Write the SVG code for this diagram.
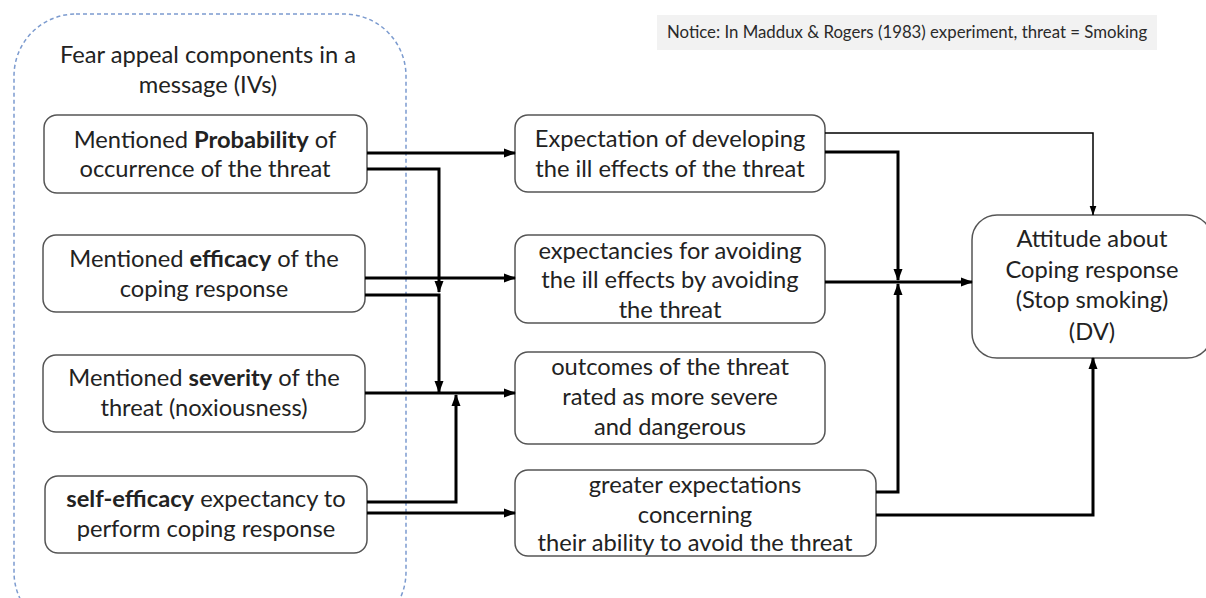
<svg xmlns="http://www.w3.org/2000/svg" width="1206" height="598" viewBox="0 0 1206 598">
<defs>
<marker id="ah" markerUnits="userSpaceOnUse" markerWidth="12" markerHeight="12" viewBox="0 0 12 12" refX="11" refY="6" orient="auto">
<path d="M0,1.5 L12,6 L0,10.5 Z" fill="#000"/>
</marker>
<marker id="ahs" markerUnits="userSpaceOnUse" markerWidth="10" markerHeight="10" viewBox="0 0 10 10" refX="9.5" refY="5" orient="auto">
<path d="M0,1.5 L10,5 L0,8.5 Z" fill="#000"/>
</marker>
</defs>
<style>
.box{fill:#fff;stroke:#555;stroke-width:1.5}
.t{font-family:Lato,"Liberation Sans",sans-serif;font-size:23.7px;fill:#222;text-anchor:middle}
.b{font-weight:bold}
.c{fill:none;stroke:#000;stroke-width:3}
.cs{fill:none;stroke:#000;stroke-width:1.5}
</style>
<rect width="1206" height="598" fill="#fff"/>
<g id="container">
<rect x="14" y="14" width="392" height="620" rx="62" fill="none" stroke="#7c9bcf" stroke-width="1.5" stroke-dasharray="4,3"/>
<text class="t" x="208" y="63">Fear appeal components in a</text>
<text class="t" x="208" y="93">message (IVs)</text>
</g>
<g id="notice">
<rect x="657" y="15" width="500" height="35" fill="#f2f2f2"/>
<text x="667" y="38" style="font-family:Lato,'Liberation Sans',sans-serif;font-size:16.8px;fill:#2a2a2a">Notice: In Maddux &amp; Rogers (1983) experiment, threat = Smoking</text>
</g>
<g id="probability">
<rect class="box" x="44" y="115" width="323" height="78" rx="13"/>
<text class="t" x="205" y="148">Mentioned <tspan class="b">Probability</tspan> of</text>
<text class="t" x="205" y="177">occurrence of the threat</text>
</g>
<g id="efficacy">
<rect class="box" x="43" y="235" width="322" height="77" rx="13"/>
<text class="t" x="204" y="267">Mentioned <tspan class="b">efficacy</tspan> of the</text>
<text class="t" x="204" y="297">coping response</text>
</g>
<g id="severity">
<rect class="box" x="43" y="355" width="322" height="77" rx="13"/>
<text class="t" x="204" y="386">Mentioned <tspan class="b">severity</tspan> of the</text>
<text class="t" x="204" y="416">threat (noxiousness)</text>
</g>
<g id="selfefficacy">
<rect class="box" x="45" y="476" width="322" height="77" rx="13"/>
<text class="t" x="206" y="507"><tspan class="b">self-efficacy</tspan> expectancy to</text>
<text class="t" x="206" y="537">perform coping response</text>
</g>
<g id="expectation">
<rect class="box" x="515" y="115" width="310" height="77" rx="13"/>
<text class="t" x="670" y="147">Expectation of developing</text>
<text class="t" x="670" y="177">the ill effects of the threat</text>
</g>
<g id="avoiding">
<rect class="box" x="515" y="235" width="310" height="88" rx="13"/>
<text class="t" x="670" y="259">expectancies for avoiding</text>
<text class="t" x="670" y="288">the ill effects by avoiding</text>
<text class="t" x="670" y="318">the threat</text>
</g>
<g id="outcomes">
<rect class="box" x="515" y="352" width="310" height="92" rx="13"/>
<text class="t" x="670" y="375">outcomes of the threat</text>
<text class="t" x="670" y="405">rated as more severe</text>
<text class="t" x="670" y="435">and dangerous</text>
</g>
<g id="greater">
<rect class="box" x="515" y="470" width="361" height="86" rx="13"/>
<text class="t" x="695" y="493">greater expectations</text>
<text class="t" x="695" y="523">concerning</text>
<text class="t" x="695" y="551">their ability to avoid the threat</text>
</g>
<g id="attitude">
<rect class="box" x="972" y="215" width="240" height="143" rx="25"/>
<text class="t" x="1092" y="247">Attitude about</text>
<text class="t" x="1092" y="278">Coping response</text>
<text class="t" x="1092" y="308">(Stop smoking)</text>
<text class="t" x="1092" y="340">(DV)</text>
</g>
<g id="connectors">
<path class="c" d="M367,153 H515" marker-end="url(#ah)"/>
<path class="c" d="M367,169 H439 V292" marker-end="url(#ah)"/>
<path class="c" d="M365,278 H515" marker-end="url(#ah)"/>
<path class="c" d="M365,295 H439 V392" marker-end="url(#ah)"/>
<path class="c" d="M365,393 H515" marker-end="url(#ah)"/>
<path class="c" d="M367,502 H456 V395" marker-end="url(#ah)"/>
<path class="c" d="M367,513 H515" marker-end="url(#ah)"/>
<path class="cs" d="M825,133 H1093 V215" marker-end="url(#ahs)"/>
<path class="c" d="M825,152 H898 V280" marker-end="url(#ah)"/>
<path class="c" d="M825,282 H972" marker-end="url(#ah)"/>
<path class="c" d="M876,492 H898 V284" marker-end="url(#ah)"/>
<path class="c" d="M876,515 H1093 V358" marker-end="url(#ah)"/>
</g>
</svg>
